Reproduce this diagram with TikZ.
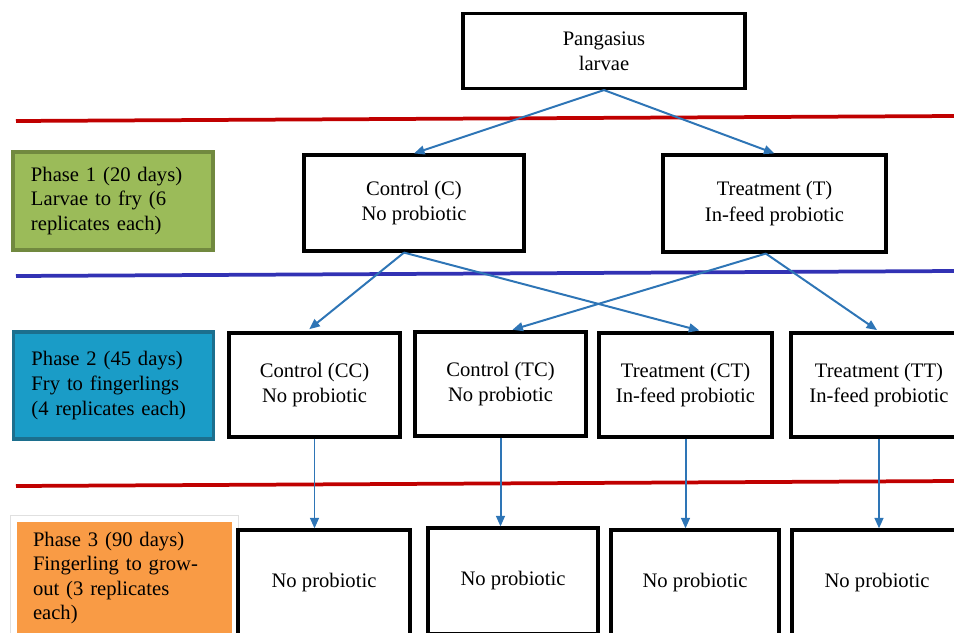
\documentclass[tikz,border=0pt]{standalone}
\usepackage{fontspec}
\setmainfont{Liberation Serif}
\usetikzlibrary{arrows.meta,positioning,fit,backgrounds}

\definecolor{greenfill}{HTML}{9BBB59}
\definecolor{greenedge}{HTML}{71893F}
\definecolor{bluefill}{HTML}{1A9CC7}
\definecolor{blueedge}{HTML}{1C6F8E}
\definecolor{orangefill}{HTML}{F99B45}
\definecolor{redsep}{HTML}{C00000}
\definecolor{bluesep}{HTML}{3232B4}
\definecolor{arrowblue}{HTML}{2E75B6}

\begin{document}
\begin{tikzpicture}[x=0.3mm, y=-0.3mm,
    % Define styles
    stage/.style={rectangle, draw=black, line width=2.7pt, align=center, inner sep=0pt, font=\fontsize{17.6}{21.4}\selectfont},
    phase/.style={rectangle, line width=2.6pt, align=left, inner xsep=5.4mm, inner ysep=0pt, font=\fontsize{17.6}{20.6}\selectfont},
    arrow/.style={-{Triangle[length=9pt,width=7.5pt]}, line width=1.7pt, arrowblue},
    sepline/.style={line width=3.2pt}
]
\useasboundingbox (0,0) rectangle (954,632);
\clip (0,0) rectangle (954,632);

% Separator lines
\draw[sepline, redsep] (16,121) -- (954,116);
\draw[sepline, bluesep] (16,276) -- (954,271);
\draw[sepline, redsep] (16,486) -- (954,481);

% Phase labels
\node[phase, fill=greenfill, draw=greenedge, text width=49.2mm, minimum height=29.4mm] (phaseone) at (113,201) {Phase 1 (20 days)\\Larvae to fry (6\\replicates each)};
\node[phase, fill=bluefill, draw=blueedge, text width=49.2mm, minimum height=32.1mm, font=\fontsize{17.6}{21.4}\selectfont] (phasetwo) at (113.5,385.5) {Phase 2 (45 days)\\Fry to fingerlings\\(4 replicates each)};
\node[phase, fill=orangefill, draw=none, inner xsep=4.8mm, text width=54.9mm, minimum height=33.6mm] (phasethree) at (124.5,578) {Phase 3 (90 days)\\Fingerling to grow-\\out (3 replicates\\each)};

% Larvae and Phase 1 groups
\node[stage, minimum width=84.6mm, minimum height=22.5mm] (larvae) at (604,51) {Pangasius\\larvae};
\node[stage, minimum width=66mm, minimum height=28.8mm] (control) at (414,203) {Control (C)\\No probiotic};
\node[stage, minimum width=66.9mm, minimum height=29.1mm] (treat) at (774.5,203.5) {Treatment (T)\\In-feed probiotic};

% Phase 2 groups
\node[stage, minimum width=51.3mm, minimum height=31.2mm] (cc) at (314.5,385) {Control (CC)\\No probiotic};
\node[stage, minimum width=51.3mm, minimum height=31.2mm] (tc) at (500.5,384) {Control (TC)\\No probiotic};
\node[stage, minimum width=51.9mm, minimum height=31.2mm] (ct) at (685.5,385) {Treatment (CT)\\In-feed probiotic};
\node[stage, minimum width=52.8mm, minimum height=31.2mm] (tt) at (879,385) {Treatment (TT)\\In-feed probiotic};

% Phase 3 groups
\node[stage, minimum width=51.6mm, minimum height=31.8mm] (ncc) at (324,583) {No probiotic};
\node[stage, minimum width=51mm, minimum height=31.8mm] (ntc) at (513,581) {No probiotic};
\node[stage, minimum width=50.4mm, minimum height=31.8mm] (nct) at (695,583) {No probiotic};
\node[stage, minimum width=51mm, minimum height=31.8mm] (ntt) at (877,583) {No probiotic};

% Connections
\draw[arrow] (larvae.south) -- (control.north);
\draw[arrow] (larvae.south) -- (treat.north);

\draw[arrow, shorten >=3pt] ([xshift=-3mm]control.south) -- ([xshift=-2.4mm]cc.north);
\draw[arrow, shorten >=3pt] ([xshift=-3mm]control.south) -- ([xshift=5.2mm]ct.north);
\draw[arrow, shorten >=2pt] ([xshift=-2.6mm]treat.south) -- ([xshift=2.9mm]tc.north);
\draw[arrow, shorten >=2pt] ([xshift=-2.6mm]treat.south) -- (tt.north);

\draw[arrow] (cc.south) -- (cc.south |- ncc.north);
\draw[arrow] (tc.south) -- (tc.south |- ntc.north);
\draw[arrow] (ct.south) -- (ct.south |- nct.north);
\draw[arrow] (tt.south) -- (tt.south |- ntt.north);

% Frame round phase 3
\begin{scope}[on background layer]
    \node[fit=(phasethree), draw=black!12, fill=white, line width=0.8pt, inner sep=1.4mm] {};
\end{scope}

\end{tikzpicture}
\end{document}
